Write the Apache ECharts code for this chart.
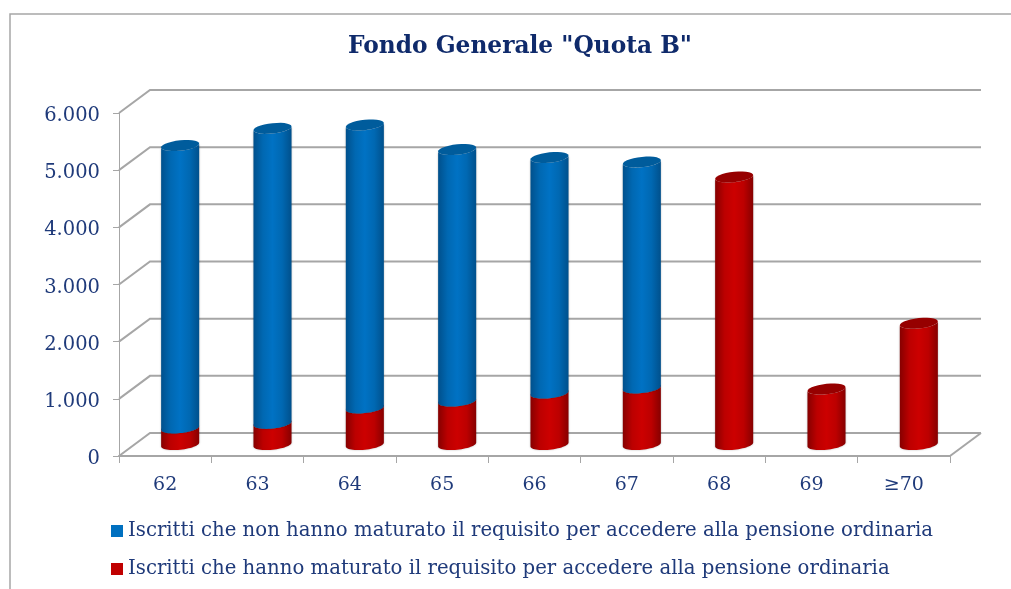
<!DOCTYPE html>
<html><head><meta charset="utf-8">
<style>html,body{margin:0;padding:0;background:#fff}#c{width:1011px;height:589px}</style>
<script src="https://cdn.jsdelivr.net/npm/echarts@6/dist/echarts.min.js"></script>
</head><body><div id="c"></div>
<script>
const categories = ['62','63','64','65','66','67','68','69','≥70'];
const notMatured = [4940,5160,4950,4400,4120,3950,0,0,0];
const matured = [290,370,640,760,900,990,4680,970,2120];
const yTicks = [0,1000,2000,3000,4000,5000,6000];
const titleText = 'Fondo Generale "Quota B"';
const nameBlue = 'Iscritti che non hanno maturato il requisito per accedere alla pensione ordinaria';
const nameRed = 'Iscritti che hanno maturato il requisito per accedere alla pensione ordinaria';

const DX = 31, DY = 23, FONT = '"DejaVu Serif","Liberation Serif",serif', NAVY = '#1f3a7a', GRAY = '#a6a6a6';
const MIDX = 15, MIDY = 11.5, SHEAR = 0.1, B = 5.2;

function arc(cx, cy, a, from, to) {
  const pts = [], n = 28;
  for (let i = 0; i <= n; i++) {
    const t = from + (to - from) * i / n;
    pts.push([cx + a * Math.cos(t), cy + B * Math.sin(t) - SHEAR * a * Math.cos(t)]);
  }
  return pts;
}
function cylinder(colors) {
  return function (params, api) {
    const cat = api.value(0), val = api.value(1), base = api.value(2);
    if (!val) return { type: 'group', children: [] };
    const p0 = api.coord([cat, base]), p1 = api.coord([cat, base + val]);
    const a = api.size([1, 0])[0] * 0.206;
    const cx = p0[0] + MIDX, yb = p0[1] - MIDY, yt = p1[1] - MIDY;
    const body = arc(cx, yb, a, Math.PI, 0).concat(arc(cx, yt, a, 0, Math.PI));
    return { type: 'group', children: [
      { type: 'polygon', shape: { points: body }, style: {
          fill: new echarts.graphic.LinearGradient(0, 0, 1, 0, [
            { offset: 0, color: colors[0] }, { offset: 0.25, color: colors[1] },
            { offset: 0.5, color: colors[2] }, { offset: 0.75, color: colors[1] }, { offset: 1, color: colors[0] }]),
          shadowBlur: 2, shadowColor: 'rgba(0,0,0,0.3)' } },
      { type: 'polygon', shape: { points: arc(cx, yt, a, 0, 2 * Math.PI) }, style: { fill: colors[3] } }
    ] };
  };
}
function wallItem(params, api) {
  const v = api.value(0), cs = params.coordSys, p = api.coord([0, v]);
  const x0 = cs.x, x1 = cs.x + cs.width, y = p[1];
  const style = { stroke: GRAY, lineWidth: 2, fill: null };
  const kids = [{ type: 'polyline', shape: { points: [[x0, y], [x0 + DX, y - DY], [x1 + DX, y - DY]] }, style }];
  if (v === 0) kids.push({ type: 'polyline', shape: { points: [[x1, y], [x1 + DX, y - DY]] }, style });
  return { type: 'group', children: kids };
}
const chart = echarts.init(document.getElementById('c'), null, { renderer: 'canvas' });
const colBlue = ['#00508c','#0068b2','#0072c4','#005c9c'];
const colRed = ['#860000','#bc0000','#cc0000','#960000'];
const legendText = { fontFamily: FONT, fontSize: 19.7, color: NAVY };
chart.setOption({
  animation: false,
  backgroundColor: '#fff',
  title: { text: titleText, left: 515, top: 30, textAlign: 'center',
    textStyle: { fontFamily: FONT, fontSize: 23.3, fontWeight: 'bold', color: '#0f2a6b' } },
  grid: { left: 119, right: 61, top: 113, bottom: 133 },
  xAxis: { type: 'category', data: categories,
    axisLine: { lineStyle: { color: GRAY, width: 2 } },
    axisTick: { show: true, length: 7, lineStyle: { color: GRAY, width: 1 } },
    axisLabel: { fontFamily: FONT, fontSize: 19, color: NAVY, margin: 20 } },
  yAxis: { type: 'value', min: 0, max: 6000, interval: 1000,
    axisLine: { show: true, lineStyle: { color: GRAY, width: 1 } },
    axisTick: { show: true, length: 6, lineStyle: { color: GRAY } },
    splitLine: { show: false },
    axisLabel: { fontFamily: FONT, fontSize: 19.5, color: NAVY, margin: 19, verticalAlign: 'top', lineHeight: 6,
      formatter: v => String(v).replace(/(\d)(\d{3})$/, '$1.$2') } },
  legend: [
    { left: 111, top: 521, padding: 0, itemWidth: 12, itemHeight: 12,
      data: [{ name: nameBlue, icon: 'rect', itemStyle: { color: '#0070c0' } }], textStyle: legendText },
    { left: 111, top: 559, padding: 0, itemWidth: 12, itemHeight: 12,
      data: [{ name: nameRed, icon: 'rect', itemStyle: { color: '#c00000' } }], textStyle: legendText }
  ],
  graphic: [{ type: 'polyline', silent: true, shape: { points: [[10, 589], [10, 14], [1011, 14]] },
    style: { stroke: '#a6a6a6', lineWidth: 1.5, fill: null } }],
  series: [
    { type: 'custom', name: 'wall', silent: true, z: 1, data: yTicks.map(v => [v]), renderItem: wallItem,
      encode: { y: 0 }, clip: false },
    { type: 'custom', name: nameRed, z: 2, itemStyle: { color: '#c00000' }, renderItem: cylinder(colRed), clip: false,
      data: categories.map((c, i) => [i, matured[i], 0]), encode: { x: 0, y: 1 } },
    { type: 'custom', name: nameBlue, z: 3, itemStyle: { color: '#0070c0' }, renderItem: cylinder(colBlue), clip: false,
      data: categories.map((c, i) => [i, notMatured[i], matured[i]]), encode: { x: 0, y: 1 } }
  ]
});
</script></body></html>
